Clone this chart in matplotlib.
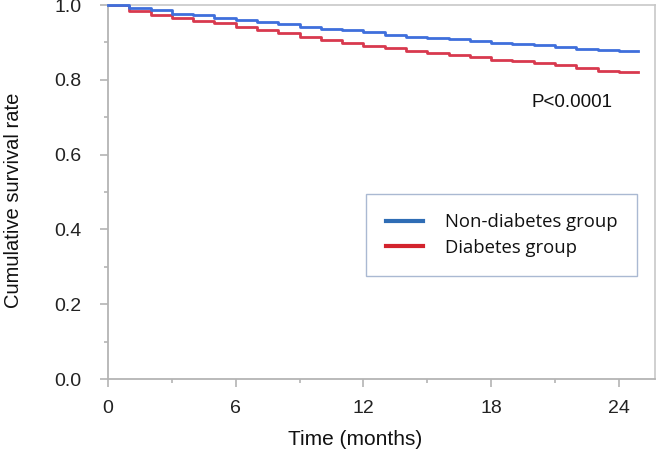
import matplotlib
matplotlib.use("Agg")
import matplotlib.pyplot as plt
from matplotlib.lines import Line2D
from matplotlib.ticker import MultipleLocator

# ---- data ----
months = [0, 1, 2, 3, 4, 5, 6, 7, 8, 9, 10, 11, 12, 13, 14, 15, 16, 17, 18, 19, 20, 21, 22, 23, 24, 24.9]
non_diabetes = [1.000, 0.993, 0.986, 0.977, 0.972, 0.965, 0.961, 0.955, 0.948, 0.940,
                0.936, 0.932, 0.927, 0.921, 0.914, 0.912, 0.910, 0.905, 0.898, 0.896,
                0.894, 0.889, 0.883, 0.879, 0.876, 0.876]
diabetes = [1.000, 0.985, 0.974, 0.965, 0.958, 0.951, 0.941, 0.933, 0.924, 0.914,
            0.907, 0.898, 0.891, 0.885, 0.878, 0.872, 0.867, 0.860, 0.854, 0.849,
            0.845, 0.839, 0.832, 0.824, 0.820, 0.820]
series_names = ["Non-diabetes group", "Diabetes group"]
x_ticks = [0, 6, 12, 18, 24]
y_ticks = [0.0, 0.2, 0.4, 0.6, 0.8, 1.0]
p_text = "P<0.0001"

plt.rcParams['font.family'] = ['Liberation Sans', 'DejaVu Sans']

fig = plt.figure(figsize=(6.63, 4.61), dpi=100)
ax = fig.add_axes([108/663, 1 - 379/461, 547/663, 374/461])

blue_line = '#3f6fdc'
red_line = '#d8394e'
ax.step(months, non_diabetes, where='post', color=blue_line, lw=2.0, zorder=3, clip_on=False)
ax.step(months, diabetes, where='post', color=red_line, lw=2.0, zorder=2, clip_on=False)

ax.set_xlim(0, 25.7)
ax.set_ylim(0, 1.0)
ax.set_xticks(x_ticks)
ax.set_yticks(y_ticks)
ax.set_yticklabels([f"{v:.1f}" for v in y_ticks])
ax.xaxis.set_minor_locator(MultipleLocator(3))
ax.yaxis.set_minor_locator(MultipleLocator(0.1))

gray = '#b4b4b4'
for s in ['left', 'bottom']:
    ax.spines[s].set_color(gray)
    ax.spines[s].set_linewidth(1.3)
for s in ['top', 'right']:
    ax.spines[s].set_color('#c8c8c8')
    ax.spines[s].set_linewidth(1.2)

ax.tick_params(axis='y', which='major', length=6, width=1.2, color=gray,
               labelsize=14, labelcolor='#222222', pad=13)
ax.tick_params(axis='x', which='major', length=6, width=1.2, color=gray,
               labelsize=14, labelcolor='#222222', pad=9)
ax.tick_params(axis='both', which='minor', length=3.2, width=1.2, color=gray)

ax.set_xlabel("Time (months)", fontsize=15, color='#111111')
ax.set_ylabel("Cumulative survival rate", fontsize=14.5, color='#111111')
ax.xaxis.set_label_coords((355-108)/547, (379-430)/374)
ax.yaxis.set_label_coords((23-108)/547, (379-200)/374)

ax.text(21.8, 0.738, p_text, fontsize=13.5, ha='center', va='center', color='#111111')

handles = [Line2D([], [], color='#2f6db5', lw=3),
           Line2D([], [], color='#d3232d', lw=3)]
leg = ax.legend(handles, series_names, loc='center',
                bbox_to_anchor=(501.5/663, 1 - 235/461), bbox_transform=fig.transFigure,
                prop={'family': 'Open Sans', 'size': 13.3},
                fancybox=False, framealpha=1, edgecolor='#aab9d2',
                handlelength=2.0, handletextpad=1.2, borderpad=1.05, labelspacing=0.4)
leg.get_frame().set_linewidth(1.0)
for t in leg.get_texts():
    t.set_color('#111111')

fig.savefig("out.png", dpi=100)
